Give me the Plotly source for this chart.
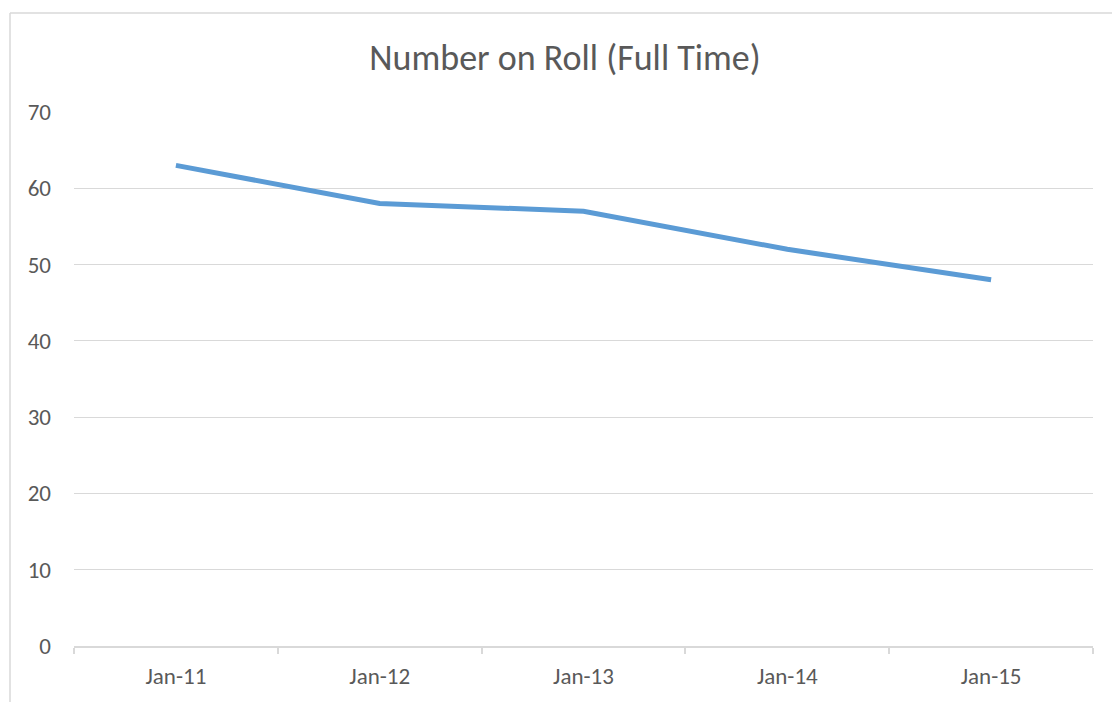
import plotly.graph_objects as go

categories = ["Jan-11", "Jan-12", "Jan-13", "Jan-14", "Jan-15"]
values = [63, 58, 57, 52, 48]
y_ticks = [0, 10, 20, 30, 40, 50, 60, 70]

W, H = 1112, 702
L, R, T, B = 74, 19, 112, 56
pw, ph = W - L - R, H - T - B

font_family = "Calibri, Carlito, Lato, sans-serif"
text_color = "#595959"
grid_color = "#d9d9d9"

fig = go.Figure()
fig.add_trace(go.Scatter(
    x=categories, y=values, mode="lines",
    line=dict(color="#5b9bd5", width=5),
    hoverinfo="x+y", showlegend=False,
))

# chart border (Excel chart area): only left and top edges are visible
bx0 = (10 - L) / pw
by1 = (H - B - 13) / ph
fig.add_shape(type="line", xref="paper", yref="paper",
              x0=bx0, x1=bx0, y0=-(B + 20) / ph, y1=by1,
              line=dict(color=grid_color, width=1.5), layer="below")
fig.add_shape(type="line", xref="paper", yref="paper",
              x0=bx0, x1=(W + 20 - L) / pw, y0=by1, y1=by1,
              line=dict(color=grid_color, width=1.5), layer="below")

fig.update_layout(
    width=W, height=H,
    margin=dict(l=L, r=R, t=T, b=B, autoexpand=False),
    paper_bgcolor="white", plot_bgcolor="white",
    font=dict(family=font_family, color=text_color, size=23),
    title=dict(text="Number on Roll (Full Time)", x=565 / W, xanchor="center",
               y=1 - 57 / H, yanchor="middle",
               font=dict(family=font_family, size=36, color=text_color)),
    xaxis=dict(type="category", range=[-0.5, 4.5], showgrid=False, automargin=False,
               showline=True, linecolor=grid_color, linewidth=1.5,
               ticks="outside", tickson="boundaries", ticklen=6, tickcolor=grid_color,
               tickwidth=1.5, ticklabelstandoff=9,
               tickfont=dict(size=23, color=text_color), fixedrange=True),
    yaxis=dict(range=[0, 70], tickvals=y_ticks, showgrid=True, gridcolor=grid_color,
               gridwidth=1.3, zeroline=False, showline=False, ticks="", automargin=False,
               ticklabelstandoff=22, tickfont=dict(size=23, color=text_color),
               fixedrange=True),
)

fig.write_html(
    "out.html",
    config={"displayModeBar": False},
    post_script="document.body.style.margin='0';document.body.style.overflow='hidden';",
)
